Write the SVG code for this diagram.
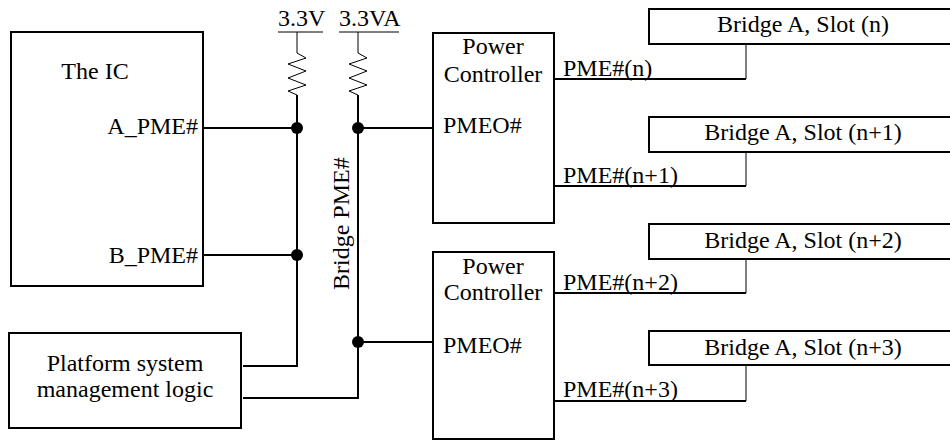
<svg xmlns="http://www.w3.org/2000/svg" width="950" height="441" viewBox="0 0 950 441">
<style>
text{font-family:"Liberation Serif","Times New Roman",serif;font-size:24px;fill:#000}
.box{fill:#fff;stroke:#000;stroke-width:2}
.w{fill:none;stroke:#000;stroke-width:2}
.t{fill:none;stroke:#000;stroke-width:1}
.c{text-anchor:middle}
.e{text-anchor:end}
</style>
<rect width="950" height="441" fill="#fff"/>
<g id="connectors">
  <line class="t" x1="278" y1="32" x2="323" y2="32" stroke-width="2"/>
  <line class="t" x1="339" y1="32" x2="399" y2="32" stroke-width="1.5"/>
  <polyline class="t" points="297,32 297,53 306,58 288,64 306,71 288,78 306,85 288,91 297,95"/>
  <polyline class="t" points="358,32 358,53 367,58 349,64 367,71 349,78 367,85 349,91 358,95"/>
  <polyline class="w" points="297,95 297,366 243,366"/>
  <polyline class="w" points="358,95 358,398 243,398"/>
  <line class="w" x1="203" y1="128" x2="297" y2="128"/>
  <line class="w" x1="203" y1="255" x2="297" y2="255"/>
  <line class="w" x1="358" y1="128" x2="433" y2="128"/>
  <line class="w" x1="358" y1="342" x2="433" y2="342"/>
  <circle cx="297" cy="128" r="6"/>
  <circle cx="297" cy="255" r="6"/>
  <circle cx="358" cy="128" r="6"/>
  <circle cx="358" cy="342" r="6"/>
  <line class="w" x1="554" y1="79" x2="746" y2="79"/>
  <line class="t" x1="746" y1="79" x2="746" y2="44"/>
  <line class="w" x1="554" y1="186" x2="746" y2="186"/>
  <line class="t" x1="746" y1="186" x2="746" y2="152"/>
  <line class="w" x1="554" y1="293" x2="746" y2="293"/>
  <line class="t" x1="746" y1="293" x2="746" y2="259"/>
  <line class="w" x1="554" y1="401" x2="746" y2="401"/>
  <line class="t" x1="746" y1="401" x2="746" y2="365"/>
  <text x="278" y="26">3.3V</text>
  <text x="339" y="26">3.3VA</text>
  <text transform="translate(349,290) rotate(-90)">Bridge PME#</text>
  <text x="563" y="76">PME#(n)</text>
  <text x="563" y="183">PME#(n+1)</text>
  <text x="563" y="290">PME#(n+2)</text>
  <text x="563" y="397">PME#(n+3)</text>
</g>
<g id="ic">
  <rect class="box" x="11" y="32" width="192" height="254"/>
  <text class="c" x="95" y="79">The IC</text>
  <text class="e" x="198" y="134">A_PME#</text>
  <text class="e" x="198" y="263">B_PME#</text>
</g>
<g id="platform">
  <rect class="box" x="9" y="333" width="232" height="95"/>
  <text class="c" x="125" y="371">Platform system</text>
  <text class="c" x="125" y="397">management logic</text>
</g>
<g id="pc1">
  <rect class="box" x="433" y="33" width="121" height="190"/>
  <text class="c" x="493" y="54">Power</text>
  <text class="c" x="493" y="82">Controller</text>
  <text x="443" y="133">PMEO#</text>
</g>
<g id="pc2">
  <rect class="box" x="433" y="252" width="121" height="187"/>
  <text class="c" x="493" y="274">Power</text>
  <text class="c" x="493" y="300">Controller</text>
  <text x="443" y="353">PMEO#</text>
</g>
<g id="slot0">
  <rect class="box" x="649" y="9" width="310" height="35"/>
  <text class="c" x="803" y="32">Bridge A, Slot (n)</text>
</g>
<g id="slot1">
  <rect class="box" x="649" y="117" width="310" height="35"/>
  <text class="c" x="803" y="140">Bridge A, Slot (n+1)</text>
</g>
<g id="slot2">
  <rect class="box" x="649" y="224" width="310" height="35"/>
  <text class="c" x="803" y="248">Bridge A, Slot (n+2)</text>
</g>
<g id="slot3">
  <rect class="box" x="649" y="331" width="310" height="34"/>
  <text class="c" x="803" y="355">Bridge A, Slot (n+3)</text>
</g>
</svg>
